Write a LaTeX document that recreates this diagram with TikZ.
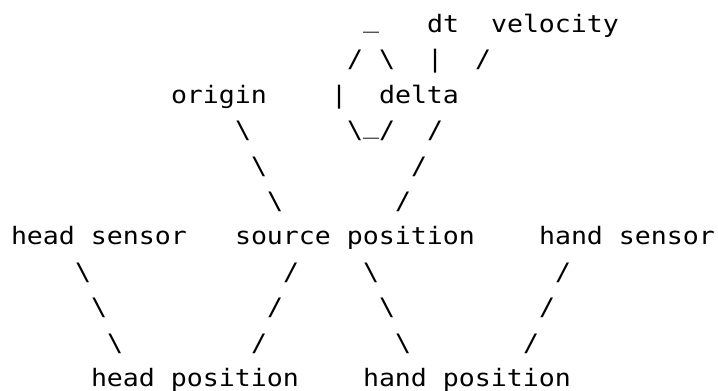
\documentclass[tikz,border=0pt]{standalone}
\usepackage{fontspec}
\newfontfamily\asciifont[FakeStretch=1.1073]{DejaVu Sans Mono}
\tikzset{
  asc/.style={anchor=base west, inner sep=0pt, outer sep=0pt,
    font={\asciifont\fontsize{24pt}{24pt}\selectfont}, text=black},
  lbl/.style={asc},
  link/.style={asc},
  under/.style={asc, yshift=5pt},
}
\newcommand{\bs}{\textbackslash}
\begin{document}
\begin{tikzpicture}[x=16pt,y=-35.4pt]
\useasboundingbox (-0.6875,0.0819) rectangle (44.1875,11.127);
% line 1
\node[under] (u1) at (22,1) {\_};
\node[lbl] (dt) at (26,1) {dt};
\node[lbl] (velocity) at (30,1) {velocity};
% line 2
\node[link] (a1) at (21,2) {/};
\node[link] (a2) at (23,2) {\bs};
\node[link] (a3) at (26,2) {|};
\node[link] (a4) at (29,2) {/};
% line 3
\node[lbl] (origin) at (10,3) {origin};
\node[link] (b1) at (20,3) {|};
\node[lbl] (delta) at (23,3) {delta};
% line 4
\node[link] (c1) at (14,4) {\bs};
\node[link] (c2) at (21,4) {\bs};
\node[under] (c3) at (22,4) {\_};
\node[link] (c4) at (23,4) {/};
\node[link] (c5) at (26,4) {/};
% line 5
\node[link] (d1) at (15,5) {\bs};
\node[link] (d2) at (25,5) {/};
% line 6
\node[link] (e1) at (16,6) {\bs};
\node[link] (e2) at (24,6) {/};
% line 7
\node[lbl] (headsensor) at (0,7) {head sensor};
\node[lbl] (sourcepos) at (14,7) {source position};
\node[lbl] (handsensor) at (33,7) {hand sensor};
% line 8
\node[link] (f1) at (4,8) {\bs};
\node[link] (f2) at (17,8) {/};
\node[link] (f3) at (22,8) {\bs};
\node[link] (f4) at (34,8) {/};
% line 9
\node[link] (g1) at (5,9) {\bs};
\node[link] (g2) at (16,9) {/};
\node[link] (g3) at (23,9) {\bs};
\node[link] (g4) at (33,9) {/};
% line 10
\node[link] (h1) at (6,10) {\bs};
\node[link] (h2) at (15,10) {/};
\node[link] (h3) at (24,10) {\bs};
\node[link] (h4) at (32,10) {/};
% line 11
\node[lbl] (headpos) at (5,11) {head position};
\node[lbl] (handpos) at (22,11) {hand position};
\end{tikzpicture}
\end{document}
